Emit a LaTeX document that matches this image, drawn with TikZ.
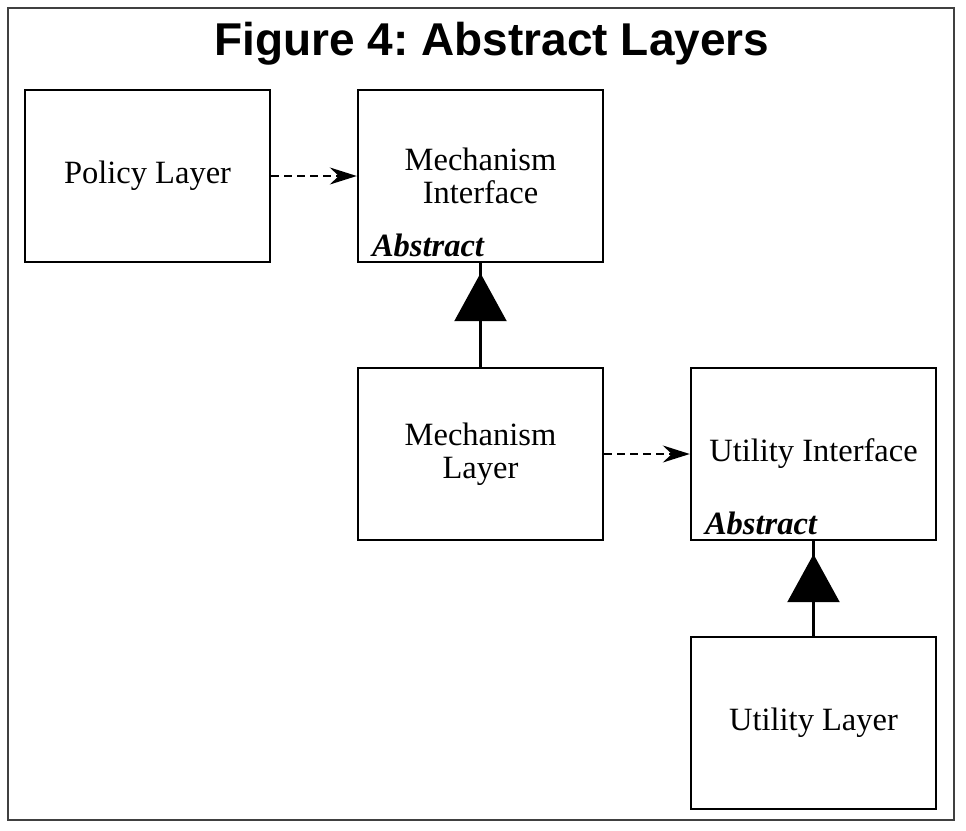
\documentclass[tikz,border=0pt]{standalone}
\usepackage{fontspec}
\setmainfont{Liberation Serif}
\newfontfamily\titlefont{Liberation Sans}
\usetikzlibrary{arrows.meta, positioning}
\frenchspacing

\tikzset{
    layer/.style={draw, line width=2.4pt, minimum width=245pt, minimum height=172pt,
        align=center, font=\fontsize{32.5}{33}\selectfont},
    abstract/.style={anchor=base west, inner sep=0pt,
        font=\fontsize{32.5}{33}\selectfont\bfseries\itshape},
    uses/.style={line width=2pt, dash pattern=on 8pt off 5pt,
        -{Stealth[length=27pt,width=17pt,inset=9pt]}},
    inherits/.style={line width=2.4pt},
    realizes/.style={line width=2.4pt, shorten >=10pt,
        -{Triangle[length=48pt,width=52pt]}}
}

\begin{document}
\begin{tikzpicture}[x=1pt, y=-1pt]
    \useasboundingbox (0,0) rectangle (966,830);
    \draw[line width=1.5pt, black!75] (8,8) rectangle (954,820);
    \node[anchor=base, font=\titlefont\bfseries\fontsize{46}{46}\selectfont] (title) at (492,55) {Figure 4: Abstract Layers};

    \node[layer] (policy) at (147.5,176) {Policy Layer};
    \node[layer] (mif) at (480.5,176) {Mechanism\\Interface};
    \node[layer] (mlayer) at (480.5,454) {Mechanism\\Layer};
    \node[layer] (uif) at (813.5,454) {Utility Interface};
    \node[layer] (ulayer) at (813.5,723) {Utility Layer};

    \node[abstract] (mifabs) at ([xshift=15pt,yshift=7pt]mif.south west) {Abstract};
    \node[abstract] (uifabs) at ([xshift=15pt,yshift=7pt]uif.south west) {Abstract};

    \draw[uses] (policy.east) -- (mif.west);
    \draw[uses] (mlayer.east) -- (uif.west);

    \draw[inherits] (mlayer.north) -- (mif.south);
    \draw[realizes] (mlayer.north) -- (mif.south);
    \draw[inherits] (ulayer.north) -- (uif.south);
    \draw[realizes, shorten >=13pt] (ulayer.north) -- (uif.south);
\end{tikzpicture}
\end{document}
